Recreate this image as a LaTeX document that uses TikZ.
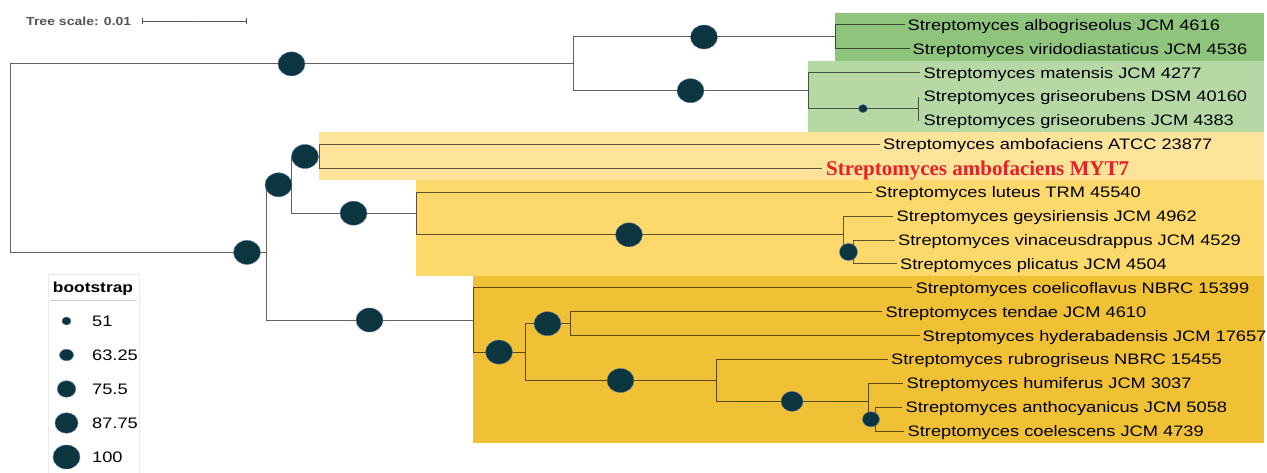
\documentclass[tikz,border=0pt]{standalone}
\usepackage{fontspec}
\setmainfont{Liberation Sans}
\newfontfamily\labfont[FakeStretch=1.2]{Liberation Sans}
\newfontfamily\myserif{Liberation Serif}
\usetikzlibrary{shapes.geometric}
\definecolor{gA}{RGB}{143,196,124}
\definecolor{gB}{RGB}{181,216,165}
\definecolor{yA}{RGB}{254,228,154}
\definecolor{yB}{RGB}{253,216,106}
\definecolor{yC}{RGB}{240,193,52}
\definecolor{bootc}{RGB}{11,54,64}
\definecolor{bootline}{RGB}{95,115,165}
\definecolor{myred}{RGB}{232,32,38}
\definecolor{scalegray}{RGB}{85,85,85}
\begin{document}
\begin{tikzpicture}[x=1pt,y=-1pt,
  br/.style={draw=black, draw opacity=0.62, line width=1pt},
  lab/.style={anchor=base west, inner sep=0pt, font=\labfont\fontsize{15.2}{18}\selectfont},
  bs/.style 2 args={ellipse, inner sep=0pt, minimum width=#1, minimum height=#2, fill=bootc, draw=bootline, line width=0.4pt},
  big/.style={bs={27pt}{24pt}}
]
\useasboundingbox (0,0) rectangle (1267,473);
% clade backgrounds
\fill[gA] (835,13) rectangle (1264,61);
\fill[gB] (808,61) rectangle (1264,132.5);
\fill[yA] (319,132.5) rectangle (1264,180.4);
\fill[yB] (416,180.4) rectangle (1264,276);
\fill[yC] (473,276) rectangle (1264,443.3);

% internal nodes
\coordinate (root) at (10,158.15);
\coordinate (nA) at (573,63.9);
\coordinate (nA1) at (835,37);
\coordinate (nA2) at (808,90.7);
\coordinate (nA2g) at (918,108.6);
\coordinate (nB) at (266,252.4);
\coordinate (nB1) at (291,184.8);
\coordinate (nB1a) at (319,156.5);
\coordinate (nB1b) at (416,213.2);
\coordinate (nB1b2) at (843,234.1);
\coordinate (nB1b2x) at (853,252);
\coordinate (nB2) at (473,320);
\coordinate (nB2x) at (525,352.1);
\coordinate (nB2xa) at (570,323.7);
\coordinate (nB2xb) at (716,380.5);
\coordinate (nB2xbh) at (868,401.4);
\coordinate (nB2xbha) at (875,419.3);
% leaves
\coordinate (l0) at (905,25);
\coordinate (l1) at (910,48.9);
\coordinate (l2) at (920,72.8);
\coordinate (l3) at (918,96.7);
\coordinate (l4) at (918,120.6);
\coordinate (l5) at (880,144.5);
\coordinate (l6) at (822,168.4);
\coordinate (l7) at (872,192.3);
\coordinate (l8) at (893,216.2);
\coordinate (l9) at (895,240.1);
\coordinate (l10) at (897,264);
\coordinate (l11) at (912,287.9);
\coordinate (l12) at (882,311.8);
\coordinate (l13) at (920,335.7);
\coordinate (l14) at (888,359.6);
\coordinate (l15) at (903,383.5);
\coordinate (l16) at (902,407.4);
\coordinate (l17) at (904,431.3);

% branches
\draw[br] (root) |- (nA);
\draw[br] (root) |- (nB);
\draw[br] (nA) |- (nA1);
\draw[br] (nA) |- (nA2);
\draw[br] (nA1) |- (l0);
\draw[br] (nA1) |- (l1);
\draw[br] (nA2) |- (l2);
\draw[br] (nA2) |- (nA2g);
\draw[br] (nA2g) |- (l3);
\draw[br] (nA2g) |- (l4);
\draw[br] (nB) |- (nB1);
\draw[br] (nB) |- (nB2);
\draw[br] (nB1) |- (nB1a);
\draw[br] (nB1) |- (nB1b);
\draw[br] (nB1a) |- (l5);
\draw[br] (nB1a) |- (l6);
\draw[br] (nB1b) |- (l7);
\draw[br] (nB1b) |- (nB1b2);
\draw[br] (nB1b2) |- (l8);
\draw[br] (nB1b2) |- (nB1b2x);
\draw[br] (nB1b2x) |- (l9);
\draw[br] (nB1b2x) |- (l10);
\draw[br] (nB2) |- (l11);
\draw[br] (nB2) |- (nB2x);
\draw[br] (nB2x) |- (nB2xa);
\draw[br] (nB2x) |- (nB2xb);
\draw[br] (nB2xa) |- (l12);
\draw[br] (nB2xa) |- (l13);
\draw[br] (nB2xb) |- (l14);
\draw[br] (nB2xb) |- (nB2xbh);
\draw[br] (nB2xbh) |- (l15);
\draw[br] (nB2xbh) |- (nB2xbha);
\draw[br] (nB2xbha) |- (l16);
\draw[br] (nB2xbha) |- (l17);

% bootstrap symbols
\node[big] (b1) at (291.5,63.9) {};
\node[big] (b2) at (704,37) {};
\node[big] (b3) at (690.5,90.7) {};
\node[bs={9pt}{8pt}] (b4) at (863,108.6) {};
\node[big] (b5) at (247,252.4) {};
\node[big] (b6) at (278.5,184.8) {};
\node[big] (b7) at (305,156.5) {};
\node[big] (b8) at (353.5,213.2) {};
\node[big] (b9) at (629,234.8) {};
\node[bs={18pt}{17pt}] (b10) at (848.5,252) {};
\node[big] (b11) at (369.5,320) {};
\node[big] (b12) at (499,352.1) {};
\node[big] (b13) at (547.5,323.7) {};
\node[big] (b14) at (620.5,380.5) {};
\node[bs={22pt}{20pt}] (b15) at (792,401.4) {};
\node[bs={17pt}{15pt}] (b16) at (871,419.3) {};

% leaf labels
\node[lab] (t0) at ([xshift=2.5pt,yshift=-5.3pt]l0) {Streptomyces albogriseolus JCM 4616};
\node[lab] (t1) at ([xshift=2.5pt,yshift=-5.3pt]l1) {Streptomyces viridodiastaticus JCM 4536};
\node[lab] (t2) at ([xshift=3.5pt,yshift=-5.3pt]l2) {Streptomyces matensis JCM 4277};
\node[lab] (t3) at ([xshift=5.5pt,yshift=-5.3pt]l3) {Streptomyces griseorubens DSM 40160};
\node[lab] (t4) at ([xshift=5.5pt,yshift=-5.3pt]l4) {Streptomyces griseorubens JCM 4383};
\node[lab] (t5) at ([xshift=3pt,yshift=-5.3pt]l5) {Streptomyces ambofaciens ATCC 23877};
\node[anchor=base west, inner sep=0pt, text=myred, font=\myserif\bfseries\fontsize{21}{24}\selectfont] (t6) at ([xshift=4pt,yshift=-6.8pt]l6) {Streptomyces ambofaciens MYT7};
\node[lab] (t7) at ([xshift=3pt,yshift=-5.3pt]l7) {Streptomyces luteus TRM 45540};
\node[lab] (t8) at ([xshift=3.5pt,yshift=-5.3pt]l8) {Streptomyces geysiriensis JCM 4962};
\node[lab] (t9) at ([xshift=3pt,yshift=-5.3pt]l9) {Streptomyces vinaceusdrappus JCM 4529};
\node[lab] (t10) at ([xshift=3pt,yshift=-5.3pt]l10) {Streptomyces plicatus JCM 4504};
\node[lab] (t11) at ([xshift=3.5pt,yshift=-5.3pt]l11) {Streptomyces coelicoflavus NBRC 15399};
\node[lab] (t12) at ([xshift=3.5pt,yshift=-5.3pt]l12) {Streptomyces tendae JCM 4610};
\node[lab] (t13) at ([xshift=2.5pt,yshift=-5.3pt]l13) {Streptomyces hyderabadensis JCM 17657};
\node[lab] (t14) at ([xshift=3pt,yshift=-5.3pt]l14) {Streptomyces rubrogriseus NBRC 15455};
\node[lab] (t15) at ([xshift=3.5pt,yshift=-5.3pt]l15) {Streptomyces humiferus JCM 3037};
\node[lab] (t16) at ([xshift=3.5pt,yshift=-5.3pt]l16) {Streptomyces anthocyanicus JCM 5058};
\node[lab] (t17) at ([xshift=3.5pt,yshift=-5.3pt]l17) {Streptomyces coelescens JCM 4739};

% tree scale
\node[anchor=base west, inner sep=0pt, text=scalegray, font=\labfont\bfseries\fontsize{11.7}{14}\selectfont] (ts) at (26,25.3) {Tree scale: 0.01};
\coordinate (s1) at (142,21);
\coordinate (s2) at (246,21);
\coordinate (sm) at (194,21);
\draw[scalegray, line width=0.8pt] (s1) -- (s2);
\draw[scalegray, line width=0.8pt] ([yshift=3pt]s1) -- ([yshift=-3pt]s1);
\draw[scalegray, line width=0.8pt] ([yshift=3pt]s2) -- ([yshift=-3pt]s2);
\draw[scalegray!60, line width=0.6pt] (sm) -- ([yshift=-1.5pt]sm);

% legend
\draw[black!8, fill=white, line width=0.6pt] (48,274) rectangle (139,478);
\node[anchor=base, inner sep=0pt, font=\labfont\bfseries\fontsize{14.5}{17}\selectfont] (lt) at (93,292.3) {bootstrap};
\coordinate (sepL) at (50,300);
\coordinate (sepR) at (137,300);
\draw[black!20, line width=0.6pt] (sepL) -- (sepR);
\node[bs={9pt}{8pt}] (k1) at (66.5,321) {};
\node[bs={14pt}{11.5pt}] (k2) at (66.5,355) {};
\node[bs={18.5pt}{16.5pt}] (k3) at (66.5,389) {};
\node[bs={23pt}{20.5pt}] (k4) at (66.5,423) {};
\node[big] (k5) at (66.5,457) {};
\node[lab] (kl1) at (92,326.3) {51};
\node[lab] (kl2) at (92,360.3) {63.25};
\node[lab] (kl3) at (92,394.3) {75.5};
\node[lab] (kl4) at (92,428.3) {87.75};
\node[lab] (kl5) at (92,462.3) {100};
\end{tikzpicture}
\end{document}
